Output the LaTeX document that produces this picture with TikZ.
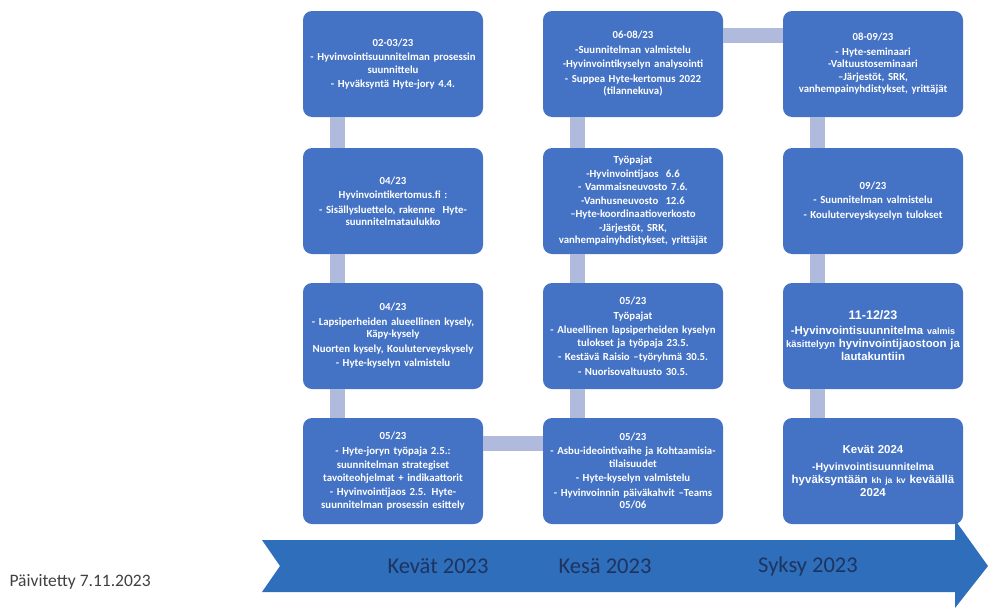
\documentclass[tikz,border=0pt]{standalone}
\usepackage{fontspec}
\setmainfont{Carlito}
\newfontfamily\arialfont{Liberation Sans}
\definecolor{laatikko}{RGB}{68,114,196}
\definecolor{yhdys}{RGB}{176,186,220}
\definecolor{nuoli}{RGB}{46,110,186}
\definecolor{tumma}{RGB}{30,52,96}
\tikzset{
	vaihe/.style={fill=laatikko, rounded corners=9pt, minimum width=180pt, minimum height=106pt,
		text width=176pt, align=center, text=white, inner sep=2pt,
		font=\fontsize{10.8}{12.5}\selectfont\bfseries},
	yhteys/.style={draw=yhdys, line width=15pt},
	kausi/.style={text=tumma, font=\fontsize{22.5}{26}\selectfont}
}
\begin{document}
\begin{tikzpicture}[x=1pt,y=-1pt]
	\useasboundingbox (0,0) rectangle (990,608);
	
	%kevät
	\node[vaihe] (a1) at (393,64) {02-03/23\\[2pt] - Hyvinvointisuunnitelman prosessin\\ suunnittelu\\[2pt] - Hyväksyntä Hyte-jory 4.4.};
	\node[vaihe] (a2) at (393,201) {04/23\\[2pt] Hyvinvointikertomus.fi :\\[2pt] - Sisällysluettelo, rakenne\ \ Hyte-\\ suunnitelmataulukko};
	\node[vaihe] (a3) at (393,336) {04/23\\[2pt] - Lapsiperheiden alueellinen kysely,\\ Käpy-kysely\\[2pt] Nuorten kysely, Kouluterveyskysely\\[2pt] - Hyte-kyselyn valmistelu};
	\node[vaihe] (a4) at (393,471) {05/23\\[2pt] - Hyte-joryn työpaja 2.5.:\\[2pt] suunnitelman strategiset\\ tavoiteohjelmat + indikaattorit\\[2pt] - Hyvinvointijaos 2.5. Hyte-\\ suunnitelman prosessin esittely};
	
	%kesä
	\node[vaihe] (b1) at (633,64) {06-08/23\\[2pt] -Suunnitelman valmistelu\\[2pt] -Hyvinvointikyselyn analysointi\\[2pt] - Suppea Hyte-kertomus 2022\\ (tilannekuva)};
	\node[vaihe] (b2) at (633,201) {Työpajat\\[1pt] -Hyvinvointijaos\ \ 6.6\\[1pt] - Vammaisneuvosto 7.6.\\[1pt] -Vanhusneuvosto\ \ 12.6\\[1pt] --Hyte-koordinaatioverkosto\\[1pt] -Järjestöt, SRK,\\ vanhempainyhdistykset, yrittäjät};
	\node[vaihe] (b3) at (633,336) {05/23\\[2pt] Työpajat\\[2pt] - Alueellinen lapsiperheiden kyselyn\\ tulokset ja työpaja 23.5.\\[2pt] - Kestävä Raisio --työryhmä 30.5.\\[2pt] - Nuorisovaltuusto 30.5.};
	\node[vaihe] (b4) at (633,471) {05/23\\[2pt] - Asbu-ideointivaihe ja Kohtaamisia-\\ tilaisuudet\\[2pt] - Hyte-kyselyn valmistelu\\[2pt] - Hyvinvoinnin päiväkahvit --Teams\\ 05/06};
	
	%syksy
	\node[vaihe] (c1) at (873,64) {08-09/23\\[2pt] - Hyte-seminaari\\ -Valtuustoseminaari\\ --Järjestöt, SRK,\\ vanhempainyhdistykset, yrittäjät};
	\node[vaihe] (c2) at (873,201) {09/23\\[2pt] - Suunnitelman valmistelu\\[2pt] - Kouluterveyskyselyn tulokset};
	\node[vaihe, font=\arialfont\fontsize{11.4}{13}\selectfont\bfseries] (c3) at (873,336) {{\fontsize{12.5}{14}\selectfont 11-12/23}\\[2pt] -Hyvinvointisuunnitelma {\fontsize{9}{13}\selectfont valmis}\\ {\fontsize{9.5}{13}\selectfont käsittelyyn} hyvinvointijaostoon ja\\ lautakuntiin};
	\node[vaihe, font=\arialfont\fontsize{11.5}{13}\selectfont\bfseries] (c4) at (873,471) {{\fontsize{11.5}{13}\selectfont Kevät 2024}\\[4pt] {\fontsize{10.5}{13}\selectfont -Hyvinvointisuunnitelma}\\ hyväksyntään {\fontsize{8.5}{13}\selectfont kh ja kv} keväällä\\ 2024};
	
	%yhteydet
	\draw[yhteys] ([xshift=-55.5pt]a1.south) -- ([xshift=-55.5pt]a2.north);
	\draw[yhteys] ([xshift=-55.5pt]a2.south) -- ([xshift=-55.5pt]a3.north);
	\draw[yhteys] ([xshift=-55.5pt]a3.south) -- ([xshift=-55.5pt]a4.north);
	\draw[yhteys] ([yshift=27.5pt]a4.east) -- ([yshift=27.5pt]b4.west);
	\draw[yhteys] ([xshift=-55.5pt]b4.north) -- ([xshift=-55.5pt]b3.south);
	\draw[yhteys] ([xshift=-55.5pt]b3.north) -- ([xshift=-55.5pt]b2.south);
	\draw[yhteys] ([xshift=-55.5pt]b2.north) -- ([xshift=-55.5pt]b1.south);
	\draw[yhteys] ([yshift=29pt]b1.east) -- ([yshift=29pt]c1.west);
	\draw[yhteys] ([xshift=-55.5pt]c1.south) -- ([xshift=-55.5pt]c2.north);
	\draw[yhteys] ([xshift=-55.5pt]c2.south) -- ([xshift=-55.5pt]c3.north);
	\draw[yhteys] ([xshift=-55.5pt]c3.south) -- ([xshift=-55.5pt]c4.north);
	
	%aikajana
	\fill[nuoli] (262,540) -- (955,540) -- (955,520) -- (988,566) -- (955,608) -- (955,592)
		-- (262,592) -- (280,566) -- cycle;
	\node[kausi] (k1) at (438,566) {Kevät 2023};
	\node[kausi] (k2) at (605,566) {Kesä 2023};
	\node[kausi] (k3) at (808,566) {Syksy 2023};
	
	\node[anchor=west, text=black!75, font=\fontsize{17.5}{20}\selectfont] (paiv) at (6,582) {Päivitetty 7.11.2023};
	
\end{tikzpicture}
\end{document}
